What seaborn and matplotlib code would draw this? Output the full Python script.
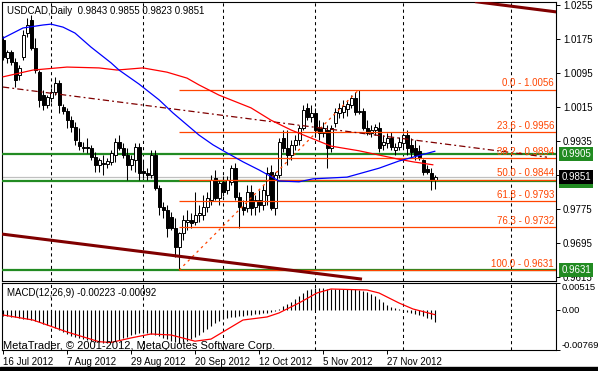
import matplotlib
matplotlib.use("Agg")
import matplotlib.pyplot as plt
from matplotlib.patches import Rectangle
from matplotlib.transforms import blended_transform_factory, offset_copy
import numpy as np
import pandas as pd
import seaborn as sns

# ---------------- data ----------------
symbol_title = "USDCAD,Daily"
last_ohlc = ["0.9843", "0.9855", "0.9823", "0.9851"]

opens = [1.0173, 1.0130, 1.0144, 1.0121, 1.0090, 1.0133, 1.0189, 1.0220, 1.0154, 1.0097,
         1.0043, 1.0020, 1.0036, 1.0050, 1.0071, 1.0015, 1.0006, 0.9984, 0.9968, 0.9933,
         0.9919, 0.9921, 0.9919, 0.9897, 0.9879, 0.9883, 0.9881, 0.9886, 0.9902, 0.9933,
         0.9919, 0.9902, 0.9879, 0.9890, 0.9921, 0.9864, 0.9860, 0.9855, 0.9902, 0.9824,
         0.9780, 0.9773, 0.9756, 0.9730, 0.9686, 0.9719, 0.9744, 0.9749, 0.9744, 0.9761,
         0.9761, 0.9780, 0.9796, 0.9848, 0.9801, 0.9839, 0.9820, 0.9839, 0.9872, 0.9803,
         0.9780, 0.9777, 0.9815, 0.9780, 0.9796, 0.9784, 0.9808, 0.9862, 0.9777, 0.9855,
         0.9942, 0.9919, 0.9902, 0.9926, 0.9937, 0.9966, 1.0013, 0.9991, 1.0001, 0.9966,
         0.9954, 0.9961, 0.9919, 0.9977, 1.0001, 1.0003, 1.0010, 1.0020, 1.0036, 1.0003,
         1.0006, 0.9966, 0.9954, 0.9961, 0.9966, 0.9926, 0.9930, 0.9942, 0.9914, 0.9921,
         0.9930, 0.9949, 0.9926, 0.9919, 0.9912, 0.9890, 0.9869, 0.9860, 0.9843]
highs = [1.0182, 1.0149, 1.0149, 1.0130, 1.0114, 1.0196, 1.0224, 1.0231, 1.0177, 1.0102,
         1.0055, 1.0043, 1.0060, 1.0086, 1.0079, 1.0022, 1.0013, 0.9994, 0.9980, 0.9966,
         0.9933, 0.9942, 0.9926, 0.9909, 0.9895, 0.9902, 0.9895, 0.9914, 0.9942, 0.9949,
         0.9930, 0.9919, 0.9902, 0.9930, 0.9930, 0.9890, 0.9872, 0.9914, 0.9914, 0.9831,
         0.9792, 0.9784, 0.9768, 0.9754, 0.9721, 0.9761, 0.9773, 0.9766, 0.9815, 0.9784,
         0.9808, 0.9815, 0.9855, 0.9867, 0.9843, 0.9853, 0.9853, 0.9879, 0.9883, 0.9815,
         0.9796, 0.9831, 0.9831, 0.9808, 0.9820, 0.9831, 0.9874, 0.9879, 0.9862, 0.9942,
         0.9961, 0.9961, 0.9937, 0.9949, 0.9973, 1.0020, 1.0024, 1.0020, 1.0013, 0.9984,
         0.9980, 0.9973, 0.9973, 1.0013, 1.0024, 1.0032, 1.0032, 1.0043, 1.0050, 1.0056,
         1.0013, 0.9984, 0.9973, 0.9975, 0.9980, 0.9949, 0.9954, 0.9956, 0.9930, 0.9944,
         0.9954, 0.9961, 0.9942, 0.9937, 0.9926, 0.9893, 0.9879, 0.9872, 0.9855]
lows = [1.0126, 1.0119, 1.0114, 1.0062, 1.0079, 1.0126, 1.0180, 1.0149, 1.0095, 1.0015,
        1.0008, 1.0013, 1.0027, 1.0043, 1.0001, 0.9999, 0.9966, 0.9956, 0.9926, 0.9914,
        0.9909, 0.9907, 0.9890, 0.9862, 0.9862, 0.9855, 0.9872, 0.9879, 0.9886, 0.9914,
        0.9895, 0.9843, 0.9867, 0.9862, 0.9843, 0.9848, 0.9843, 0.9848, 0.9820, 0.9761,
        0.9754, 0.9709, 0.9726, 0.9662, 0.9631, 0.9702, 0.9726, 0.9730, 0.9737, 0.9744,
        0.9749, 0.9768, 0.9784, 0.9796, 0.9784, 0.9806, 0.9810, 0.9831, 0.9796, 0.9730,
        0.9761, 0.9768, 0.9761, 0.9761, 0.9768, 0.9773, 0.9784, 0.9773, 0.9761, 0.9848,
        0.9909, 0.9879, 0.9890, 0.9914, 0.9926, 0.9961, 0.9984, 0.9980, 0.9949, 0.9937,
        0.9944, 0.9872, 0.9909, 0.9968, 0.9989, 0.9989, 0.9993, 1.0013, 0.9996, 0.9999,
        0.9961, 0.9949, 0.9944, 0.9949, 0.9909, 0.9914, 0.9919, 0.9914, 0.9902, 0.9914,
        0.9919, 0.9902, 0.9895, 0.9890, 0.9890, 0.9855, 0.9858, 0.9820, 0.9823]
closes = [1.0133, 1.0144, 1.0121, 1.0079, 1.0107, 1.0184, 1.0208, 1.0154, 1.0102, 1.0031,
          1.0020, 1.0039, 1.0050, 1.0071, 1.0020, 1.0006, 0.9984, 0.9968, 0.9937, 0.9923,
          0.9921, 0.9919, 0.9897, 0.9879, 0.9890, 0.9881, 0.9888, 0.9907, 0.9933, 0.9919,
          0.9902, 0.9879, 0.9893, 0.9921, 0.9860, 0.9860, 0.9855, 0.9902, 0.9824, 0.9780,
          0.9773, 0.9730, 0.9730, 0.9686, 0.9719, 0.9749, 0.9749, 0.9742, 0.9761, 0.9766,
          0.9780, 0.9801, 0.9843, 0.9801, 0.9836, 0.9815, 0.9843, 0.9872, 0.9803, 0.9780,
          0.9773, 0.9815, 0.9777, 0.9796, 0.9784, 0.9820, 0.9860, 0.9777, 0.9855, 0.9933,
          0.9919, 0.9902, 0.9926, 0.9937, 0.9966, 1.0008, 0.9991, 1.0001, 0.9961, 0.9954,
          0.9966, 0.9919, 0.9966, 1.0003, 1.0013, 1.0017, 1.0022, 1.0036, 1.0003, 1.0006,
          0.9966, 0.9954, 0.9961, 0.9968, 0.9919, 0.9933, 0.9942, 0.9921, 0.9921, 0.9933,
          0.9949, 0.9919, 0.9909, 0.9902, 0.9895, 0.9862, 0.9862, 0.9843, 0.9851]

# moving averages (bar index, price)
ma_blue_idx = [0, 5, 10, 12, 15, 18, 22, 27, 29, 34, 39, 42.5, 46, 49, 52.5, 56, 60, 64,
               69, 74, 77.5, 86, 94, 99, 108]
ma_blue = [1.0177, 1.0201, 1.0208, 1.0210, 1.0203, 1.0189, 1.0156, 1.0119, 1.0102, 1.0069,
           1.0032, 1.0001, 0.9973, 0.9949, 0.9926, 0.9907, 0.9886, 0.9867, 0.9841, 0.9839,
           0.9846, 0.9850, 0.9871, 0.9888, 0.9911]
ma_red_idx = [0, 7.5, 16, 24, 28.5, 35, 41, 46, 49, 54, 62, 67, 72, 77, 82, 89, 94, 98.5,
              102.5, 107.5]
ma_red = [1.0086, 1.0102, 1.0109, 1.0107, 1.0102, 1.0107, 1.0097, 1.0083, 1.0067, 1.0043,
          1.0013, 0.9984, 0.9961, 0.9942, 0.9923, 0.9912, 0.9902, 0.9893, 0.9886, 0.9879]

# MACD main (histogram) per bar, and signal line
macd_main = [-0.00117, -0.00117, -0.00136, -0.00136,
             -0.00155, -0.00174, -0.00174, -0.00194,
             -0.00213, -0.00232, -0.00270, -0.00289,
             -0.00308, -0.00347, -0.00385, -0.00423,
             -0.00462, -0.00500, -0.00519, -0.00538,
             -0.00558, -0.00577, -0.00596, -0.00615,
             -0.00615, -0.00634, -0.00634, -0.00615,
             -0.00596, -0.00577, -0.00538, -0.00519,
             -0.00481, -0.00462, -0.00443, -0.00443,
             -0.00443, -0.00462, -0.00481, -0.00500,
             -0.00538, -0.00558, -0.00596, -0.00615,
             -0.00634, -0.00615, -0.00596, -0.00558,
             -0.00519, -0.00481, -0.00423, -0.00366,
             -0.00308, -0.00251, -0.00213, -0.00174,
             -0.00155, -0.00136, -0.00136, -0.00117,
             -0.00117, -0.00098, -0.00098, -0.00079,
             -0.00079, -0.00059, -0.00059, -0.00040,
             -0.00021, 0.00017, 0.00075, 0.00113,
             0.00151, 0.00209, 0.00266,
             0.00324, 0.00381, 0.00400, 0.00419,
             0.00419, 0.00419, 0.00400, 0.00400, 0.00400, 0.00400, 0.00400, 0.00400, 0.00400,
             0.00400, 0.00381, 0.00362, 0.00343,
             0.00305, 0.00266, 0.00209, 0.00151,
             0.00094, 0.00056, 0.00036, 0.00017,
             -0.00021, -0.00040, -0.00059, -0.00079, -0.00098, -0.00117, -0.00155, -0.00174,
             -0.00223]
signal_idx = [0, 7.5, 16, 24, 27, 32, 37, 42, 48, 52, 55, 60, 66, 69, 74, 78.5, 82, 91, 94,
              99, 102.5, 108]
signal = [-0.00098, -0.00194, -0.00423, -0.00610, -0.00625, -0.00538, -0.00462, -0.00481,
          -0.00600, -0.00560, -0.00423, -0.00194, -0.00136, -0.00059, 0.00132, 0.00324,
          0.00400, 0.00381, 0.00324, 0.00132, 0.00017, -0.00092]
macd_label = "MACD(12,26,9) -0.00223 -0.00092"

date_tick_idx = [0, 16, 32, 48, 64, 80, 96]
date_tick_labels = ["16 Jul 2012", "7 Aug 2012", "29 Aug 2012", "20 Sep 2012",
                    "12 Oct 2012", "5 Nov 2012", "27 Nov 2012"]
month_grid_idx = [12, 35, 55, 78, 100, 127]

price_ticks = [1.0255, 1.0175, 1.0095, 1.0015, 0.9935, 0.9855, 0.9775, 0.9695, 0.9615]
macd_ticks = [0.00515, 0.0, -0.00769]
macd_tick_labels = ["0.00515", "0.00", "-0.00769"]

fib_pct = ["0.0", "23.6", "38.2", "50.0", "61.8", "76.3", "100.0"]
fib_price = [1.0056, 0.9956, 0.9894, 0.9844, 0.9793, 0.9732, 0.9631]
fib_anchor_idx = [44, 89]
fib_anchor_price = [0.9631, 1.0056]

green_levels = [0.9905, 0.9631, 0.9841]
bid_price = 0.9851

trend_idx = [0, 136]
trend_price = [1.0062, 0.9897]
chan_low_idx = [-0.25, 89.75]
chan_low_price = [0.9716, 0.9610]
chan_up_idx = [118, 139]
chan_up_price = [1.0263, 1.0238]

copyright_text = "MetaTrader, \u00a9 2001-2012, MetaQuotes Software Corp."

# ---------------- style ----------------
sns.set_theme(style="white")
plt.rcParams["font.family"] = ["Liberation Sans", "DejaVu Sans"]

FIB = "#FF4500"
GREEN = "#228B22"
DARKRED = "#800000"
FS = 7

W, H = 598, 371
fig = plt.figure(figsize=(W / 100, H / 100), dpi=100)
fig.patch.set_facecolor("white")


def px_axes(x0, y0, x1, y1):
    return fig.add_axes([x0 / W, 1 - y1 / H, (x1 - x0) / W, (y1 - y0) / H])


ax = px_axes(2, 2, 556, 281)
axm = px_axes(2, 283, 556, 350)
axm.patch.set_alpha(0)

n = len(closes)
idx = np.arange(n)
df = pd.DataFrame({"i": idx, "o": opens, "h": highs, "l": lows, "c": closes})

for a in (ax, axm):
    a.set_xlim(-0.25, 138.25)
    for s in a.spines.values():
        s.set_color("black")
        s.set_linewidth(0.8)
    for g in month_grid_idx:
        a.axvline(g, color="black", lw=0.75, ls=(0, (3, 3)), zorder=1)

ax.set_ylim(0.96056, 1.02621)
axm.set_ylim(-0.00769, 0.00515)

# candles
ax.vlines(df["i"], df["l"], df["h"], color="black", lw=0.75, zorder=4)
up = df["c"] >= df["o"]
body_lo = np.minimum(df["o"], df["c"])
body_h = np.abs(df["c"] - df["o"])
ax.bar(df["i"][up], body_h[up], bottom=body_lo[up], width=0.75, color="white",
       edgecolor="black", linewidth=0.7, zorder=5)
ax.bar(df["i"][~up], body_h[~up], bottom=body_lo[~up], width=0.75, color="black",
       edgecolor="black", linewidth=0.7, zorder=5)

# horizontal objects
ax.axhline(bid_price, color="#C0C0C0", lw=0.9, zorder=2)
for lv in green_levels:
    ax.axhline(lv, color=GREEN, lw=1.6, zorder=3)

# fibonacci
for pct, pr in zip(fib_pct, fib_price):
    ax.hlines(pr, fib_anchor_idx[0], 138.25, color=FIB, lw=0.9, zorder=6)
ax.plot(fib_anchor_idx, fib_anchor_price, color=FIB, lw=0.9, ls=(0, (2, 3)), zorder=6)
tr_lbl = offset_copy(blended_transform_factory(ax.transAxes, ax.transData), fig=fig,
                     x=0, y=1.5, units="dots")
for pct, pr in zip(fib_pct, fib_price):
    ax.text(0.9965, pr, f"{pct} - {pr:.4f}", transform=tr_lbl, ha="right", va="bottom",
            color=FIB, fontsize=FS, zorder=7)

# trend / channel lines
ax.plot(trend_idx, trend_price, color=DARKRED, lw=0.9, ls=(0, (5, 2.5, 1.5, 2.5)), zorder=6)
ax.plot(chan_low_idx, chan_low_price, color=DARKRED, lw=2.2, zorder=6, solid_capstyle="butt")
ax.plot(chan_up_idx, chan_up_price, color=DARKRED, lw=2.2, zorder=6, solid_capstyle="butt")

# moving averages
sns.lineplot(x=ma_red_idx, y=ma_red, ax=ax, color="#FF0000", lw=0.9, sort=False, zorder=7)
sns.lineplot(x=ma_blue_idx, y=ma_blue, ax=ax, color="#0000FF", lw=0.9, sort=False, zorder=7)

# axis ticks main
ax.yaxis.tick_right()
ax.set_yticks(price_ticks)
ax.set_yticklabels([f"{t:.4f}" for t in price_ticks])
ax.tick_params(axis="y", which="both", right=True, left=False, direction="out", length=3,
               width=0.7, pad=2, labelsize=FS, colors="black")
ax.tick_params(axis="x", bottom=False, labelbottom=False)
ax.set_xlabel("")
ax.set_ylabel("")

# right side value boxes
tr_box = blended_transform_factory(ax.transAxes, ax.transData)
box_specs = [(0.9905, GREEN, 10), (0.9631, GREEN, 10), (0.9841, GREEN, 10), (bid_price, "black", 11)]
for val, col, z in box_specs:
    ax.text(1.0095, val, f"{val:.4f}", transform=tr_box, ha="left", va="center", color="white",
            fontsize=FS, clip_on=False, zorder=z,
            bbox=dict(boxstyle="square,pad=0.22", fc=col, ec="none"))

ax.text(0.009, 0.968, symbol_title + "  " + " ".join(last_ohlc), transform=ax.transAxes,
        ha="left", va="center", fontsize=FS, color="black", zorder=12)

# MACD panel
axm.vlines(idx, 0, macd_main, color="black", lw=0.8, zorder=3)
sns.lineplot(x=signal_idx, y=signal, ax=axm, color="#FF0000", lw=0.9, sort=False, zorder=4)
axm.yaxis.tick_right()
axm.set_yticks(macd_ticks)
axm.set_yticklabels(macd_tick_labels)
axm.tick_params(axis="y", right=True, left=False, direction="out", length=3, width=0.7,
                pad=1.2, labelsize=6.8, colors="black")
ylabs = axm.get_yticklabels()
ylabs[0].set_va("top")
ylabs[2].set_va("bottom")
axm.set_xticks(date_tick_idx)
axm.set_xticklabels(date_tick_labels)
axm.tick_params(axis="x", bottom=True, direction="out", length=3, width=0.7, pad=2,
                labelsize=FS, colors="black")
for lab in axm.get_xticklabels():
    lab.set_ha("left")
axm.set_xlabel("")
axm.set_ylabel("")
axm.text(0.009, 0.85, macd_label, transform=axm.transAxes, ha="left", va="center",
         fontsize=FS, color="black", zorder=6)
axm.text(0.002, 0.06, copyright_text, transform=axm.transAxes, ha="left", va="center",
         fontsize=8, color="black", zorder=6)

fig.add_artist(Rectangle((0, 0), 1, 4 / H, transform=fig.transFigure, color="black"))

fig.savefig("out.png", dpi=100, facecolor="white")
